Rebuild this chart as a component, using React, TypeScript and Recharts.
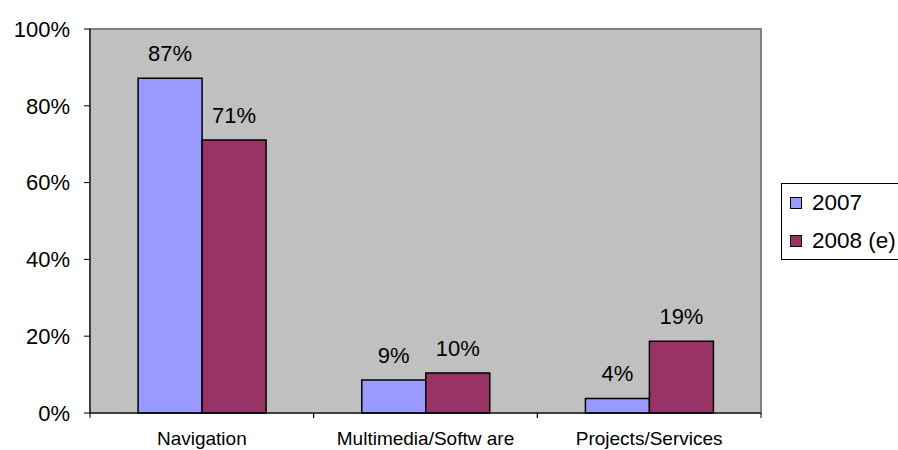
import { BarChart, Bar, XAxis, YAxis, CartesianGrid, ReferenceArea, Legend, LabelList } from 'recharts';

const categories = ['Navigation', 'Multimedia/Softw are', 'Projects/Services'];
const series2007 = [87.2, 8.6, 3.8];
const series2008 = [71.1, 10.4, 18.7];
const yTicks = [0, 20, 40, 60, 80, 100];
const seriesNames = ['2007', '2008 (e)'];
const seriesColors = ['#9999FF', '#993366'];

const data = categories.map((name, i) => ({ name, a: series2007[i], b: series2008[i] }));

const W = 898;
const H = 450;
const M = { top: 29, right: 137, bottom: 0, left: 6 };
const Y_W = 84;
const X_H = 37;
const plotW = W - M.left - M.right - Y_W;
const band = plotW / categories.length;
const font = '"Liberation Sans", Arial, sans-serif';

function CatTick(props: any) {
  const { x, y, payload } = props;
  return (
    <g>
      <line x1={x - band / 2} x2={x - band / 2} y1={y - 8} y2={y - 3} stroke="#000" />
      <line x1={x + band / 2} x2={x + band / 2} y1={y - 8} y2={y - 3} stroke="#000" />
      <text x={x} y={y + 24} textAnchor="middle" fontSize={19} fontFamily={font} fill="#000">
        {payload.value}
      </text>
    </g>
  );
}

function LegendBox() {
  return (
    <div
      style={{
        border: '1px solid #000',
        background: '#fff',
        width: 130,
        height: 77,
        boxSizing: 'border-box',
        fontFamily: font,
        fontSize: 22.5,
        paddingLeft: 8,
        paddingTop: 0,
        textAlign: 'left',
      }}
    >
      {seriesNames.map((n, i) => (
        <div key={n} style={{ display: 'flex', alignItems: 'center', height: 38 }}>
          <span
            style={{
              width: 10,
              height: 10,
              background: seriesColors[i],
              border: '1px solid #000',
              marginRight: 10,
              display: 'inline-block',
            }}
          />
          <span>{n}</span>
        </div>
      ))}
    </div>
  );
}

const pct = (v: any) => `${Math.round(Number(v))}%`;

export default function App() {
  return (
    <div style={{ position: 'absolute', left: 0, top: 0, width: W, height: H, background: '#fff' }}>
      <BarChart width={W} height={H} data={data} margin={M} barGap={0} barCategoryGap="21.5%">
        <CartesianGrid fill="#C0C0C0" horizontal={false} vertical={false} />
        <ReferenceArea y1={0} y2={100} fill="none" stroke="#808080" strokeWidth={2} ifOverflow="visible" />
        <XAxis
          dataKey="name"
          height={X_H}
          tick={<CatTick />}
          tickLine={false}
          axisLine={{ stroke: '#000' }}
          interval={0}
        />
        <YAxis
          width={Y_W}
          domain={[0, 100]}
          ticks={yTicks}
          tickFormatter={pct}
          tickSize={6}
          tickMargin={14}
          axisLine={{ stroke: '#000' }}
          tickLine={{ stroke: '#000' }}
          tick={{ fontSize: 22, fontFamily: font, fill: '#000' }}
        />
        <Legend
          layout="horizontal"
          align="center"
          verticalAlign="middle"
          content={<LegendBox />}
          wrapperStyle={{ position: 'absolute', left: 781, top: 183, width: 130 }}
        />
        <Bar dataKey="a" name={seriesNames[0]} fill={seriesColors[0]} stroke="#000" strokeWidth={1.5} isAnimationActive={false}>
          <LabelList dataKey="a" position="top" offset={17} formatter={pct} fontSize={22} fontFamily={font} fill="#000" />
        </Bar>
        <Bar dataKey="b" name={seriesNames[1]} fill={seriesColors[1]} stroke="#000" strokeWidth={1.5} isAnimationActive={false}>
          <LabelList dataKey="b" position="top" offset={17} formatter={pct} fontSize={22} fontFamily={font} fill="#000" />
        </Bar>
      </BarChart>
    </div>
  );
}
